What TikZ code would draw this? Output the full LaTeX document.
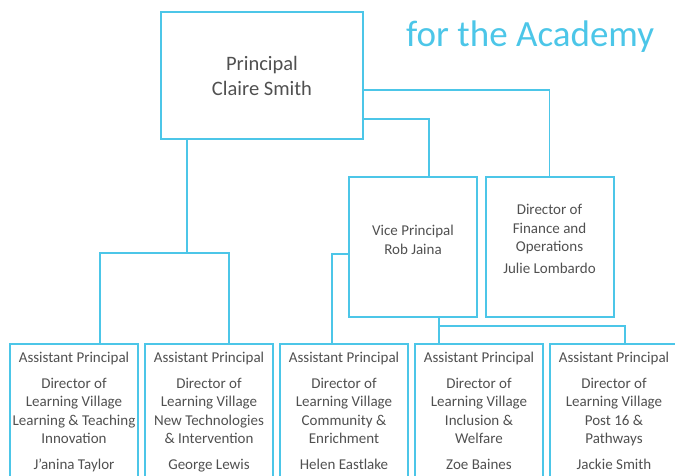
\documentclass[tikz,border=0pt]{standalone}
\usepackage{fontspec}
\setmainfont{Carlito}
\usepackage{xcolor}
\usetikzlibrary{positioning}
\definecolor{chartblue}{HTML}{4CC6E8}
\definecolor{chartgrey}{HTML}{505050}

\begin{document}
\begin{tikzpicture}[
    x=1pt, y=-1pt,
    box/.style={draw=chartblue, line width=2pt, inner sep=0pt},
    topbox/.style={box, minimum width=202pt, minimum height=127pt, align=center, text=chartgrey, font=\fontsize{20.5}{25}\selectfont},
    midbox/.style={box, minimum width=128pt, minimum height=140pt},
    lvbox/.style={box, minimum width=128pt, minimum height=170pt, anchor=north},
    boxtext/.style={align=center, inner sep=0pt, text=chartgrey, font=\fontsize{15}{18.5}\selectfont},
    link/.style={draw=chartblue, line width=1.6pt}
]
\useasboundingbox (0,0) rectangle (675,476);
\clip (0,0) rectangle (675,476);

% title
\node[anchor=base west, inner sep=0pt, text=chartblue, font=\fontsize{37}{40}\selectfont] (title) at (406,47) {for the Academy};

% senior team
\node[topbox] (principal) at (262,75.5) {Principal\\Claire Smith};
\node[midbox] (vp) at (413,247) {};
\node[boxtext] (vptext) at ([yshift=7pt]vp.center) {Vice Principal\\Rob Jaina};
\node[midbox] (fin) at (549.5,247) {};
\node[boxtext] (fintext) at ([yshift=8pt]fin.center) {Director of\\Finance and\\Operations\\[3pt]Julie Lombardo};

% learning villages
\node[lvbox] (lv1) at (74,343) {};
\node[lvbox, right=5pt of lv1] (lv2) {};
\node[lvbox, right=5pt of lv2] (lv3) {};
\node[lvbox, right=5pt of lv3] (lv4) {};
\node[lvbox, right=5pt of lv4] (lv5) {};

\node[boxtext, below=9pt of lv1.north] (lv1text) {Assistant Principal\\[7pt]Director of\\Learning Village\\Learning \& Teaching\\Innovation\\[7pt]J'anina Taylor};
\node[boxtext, below=9pt of lv2.north] (lv2text) {Assistant Principal\\[7pt]Director of\\Learning Village\\New Technologies\\\& Intervention\\[7pt]George Lewis};
\node[boxtext, below=9pt of lv3.north] (lv3text) {Assistant Principal\\[7pt]Director of\\Learning Village\\Community \&\\Enrichment\\[7pt]Helen Eastlake};
\node[boxtext, below=9pt of lv4.north] (lv4text) {Assistant Principal\\[7pt]Director of\\Learning Village\\Inclusion \&\\Welfare\\[7pt]Zoe Baines};
\node[boxtext, below=9pt of lv5.north] (lv5text) {Assistant Principal\\[7pt]Director of\\Learning Village\\Post 16 \&\\Pathways\\[7pt]Jackie Smith};

% connectors
\coordinate (pjoin) at (187,253);
\coordinate (vjoin) at ([xshift=26pt,yshift=-8pt]vp.south);
\draw[link] (principal.south -| pjoin) -- (pjoin);
\draw[link] ([xshift=26pt]lv1.north) |- (pjoin) -| ([xshift=20pt]lv2.north);
\draw[link] ([yshift=-14.5pt]principal.east) -| (fin.north);
\draw[link] ([yshift=-43.5pt]principal.east) -| ([xshift=16pt]vp.north);
\draw[link] ([yshift=-7pt]vp.west) -| ([xshift=-12pt]lv3.north);
\draw[link] ([xshift=26pt]vp.south) -- ([xshift=-40pt]lv4.north);
\draw[link] (vjoin) -| ([xshift=11pt]lv5.north);
\end{tikzpicture}
\end{document}
